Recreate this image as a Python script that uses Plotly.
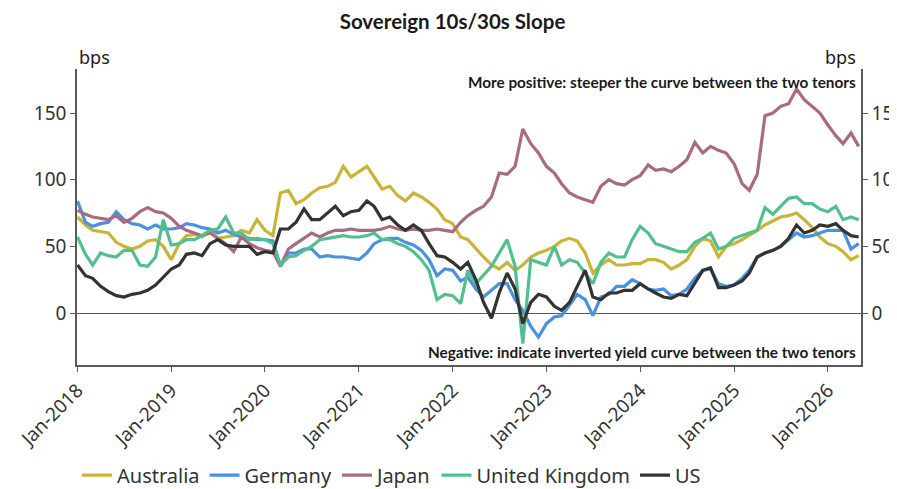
import plotly.graph_objects as go
import pandas as pd

# Monthly observations, Jan-2018 .. May-2026 (bps)
dates = pd.date_range("2018-01-01", "2026-05-01", freq="MS")

australia = [72, 66, 62, 61, 60, 53, 50, 48, 50, 54, 55, 50, 40, 52, 58, 59, 57, 62, 56, 57, 58, 62, 60, 70, 62, 58,
             90, 92, 82, 85, 90, 94, 95, 98, 110, 102, 106, 110, 102, 93, 95, 88, 84, 90, 87, 83, 78, 70, 67, 57, 55,
             48, 42, 36, 33, 38, 32, 36, 42, 45, 47, 50, 54, 56, 54, 45, 30, 36, 40, 36, 36, 37, 37, 40, 40, 38,
             33, 36, 40, 50, 56, 54, 42, 50, 52, 55, 58, 62, 66, 69, 72, 73, 75, 70, 64, 57, 52, 50, 46, 40, 43]

germany = [84, 68, 65, 67, 68, 76, 70, 67, 66, 63, 66, 63, 63, 64, 67, 66, 64, 63, 60, 62, 59, 57, 56, 55, 55, 54,
           35, 45, 45, 48, 48, 42, 43, 42, 42, 41, 40, 45, 52, 55, 56, 56, 53, 51, 47, 40, 28, 33, 32, 24, 27,
           18, 12, 17, 22, 22, 10, 2, -10, -18, -8, -3, -2, 6, 14, 10, -2, 12, 14, 20, 20, 25, 22, 18, 17, 18,
           13, 14, 18, 26, 32, 33, 22, 20, 21, 26, 32, 42, 45, 47, 50, 55, 60, 57, 58, 60, 62, 62, 62, 48, 52]

japan = [77, 74, 72, 71, 70, 73, 68, 71, 76, 79, 76, 75, 71, 65, 62, 60, 58, 60, 56, 52, 46, 57, 52, 49, 47, 46,
         35, 48, 52, 56, 60, 57, 60, 62, 62, 63, 62, 62, 62, 63, 65, 63, 62, 63, 62, 62, 63, 62, 61, 68, 73,
         77, 80, 87, 105, 104, 110, 138, 127, 120, 110, 105, 97, 90, 87, 85, 83, 95, 100, 97, 96, 100, 103, 111, 107, 108,
         106, 110, 115, 128, 120, 125, 122, 120, 112, 97, 92, 104, 148, 150, 155, 157, 168, 160, 155, 150, 141, 133, 127, 135, 125]

united_kingdom = [57, 44, 36, 45, 43, 42, 47, 47, 36, 35, 42, 70, 51, 52, 55, 55, 58, 62, 63, 72, 60, 60, 55, 56, 55, 52,
                  36, 42, 43, 47, 50, 55, 56, 57, 58, 57, 57, 58, 60, 55, 55, 52, 50, 46, 40, 32, 10, 14, 13, 7, 32,
                  22, 28, 35, 45, 55, 35, -23, 40, 38, 36, 50, 36, 40, 38, 30, 22, 38, 45, 42, 42, 55, 65, 60, 52, 50,
                  48, 46, 46, 53, 56, 60, 48, 50, 56, 58, 60, 62, 79, 74, 80, 86, 87, 82, 82, 78, 76, 80, 70, 72, 70]

us = [36, 28, 26, 20, 16, 13, 12, 14, 15, 17, 21, 27, 33, 36, 44, 45, 43, 52, 55, 51, 50, 50, 50, 44, 46, 45,
      63, 63, 68, 78, 70, 70, 75, 80, 73, 76, 77, 84, 80, 70, 72, 66, 62, 66, 62, 52, 43, 42, 38, 33, 38,
      25, 8, -4, 15, 30, 18, -8, 8, 14, 12, 5, 2, 8, 20, 32, 12, 10, 15, 15, 17, 17, 22, 18, 15, 12,
      11, 14, 13, 22, 32, 34, 19, 19, 21, 24, 30, 42, 45, 47, 50, 56, 66, 60, 62, 66, 65, 67, 62, 58, 57]

series_names = ["Australia", "Germany", "Japan", "United Kingdom", "US"]
series_values = [australia, germany, japan, united_kingdom, us]
colors = ["#C9B43A", "#4A92E0", "#A96B7E", "#52BF8D", "#333333"]

y_ticks = [0, 50, 100, 150]
x_ticks = pd.date_range("2018-01-01", "2026-01-01", freq="YS")
x_tick_labels = [d.strftime("Jan-%Y") for d in x_ticks]

fig = go.Figure()
for name, vals, col in zip(series_names, series_values, colors):
    fig.add_trace(go.Scatter(x=dates, y=vals, name=name, mode="lines",
                             line=dict(color=col, width=3.2)))
# helper trace so the right-hand axis is drawn
fig.add_trace(go.Scatter(x=[dates[0]], y=[0], yaxis="y2", mode="markers",
                         marker=dict(opacity=0), showlegend=False, hoverinfo="skip"))

axis_col = "#595959"
tick_font = dict(family="Noto Sans", size=19, color="#333333")
yr = [-39, 183]

fig.update_layout(
    width=889, height=481,
    margin=dict(l=69, r=36, t=61, b=124, autoexpand=False),
    paper_bgcolor="white", plot_bgcolor="white",
    showlegend=True,
    title=dict(text="<b>Sovereign 10s/30s Slope</b>", x=0.5, xanchor="center",
               y=0.972, yanchor="middle",
               font=dict(family="Lato", size=20.5, color="#1a1a1a")),
    xaxis=dict(range=["2017-12-30", "2026-05-10"], tickvals=x_ticks, ticktext=x_tick_labels,
               tickangle=-45, ticks="outside", ticklen=5, tickcolor=axis_col,
               showline=True, linecolor=axis_col, linewidth=1.5, showgrid=False,
               zeroline=False, tickfont=tick_font, automargin=False),
    yaxis=dict(range=yr, tickvals=y_ticks, ticks="outside", ticklen=5, tickcolor=axis_col,
               showline=True, linecolor=axis_col, linewidth=1.5, showgrid=False,
               zeroline=True, zerolinecolor=axis_col, zerolinewidth=1,
               tickfont=tick_font, automargin=False),
    yaxis2=dict(range=yr, tickvals=y_ticks, overlaying="y", side="right",
                ticks="outside", ticklen=5, tickcolor=axis_col,
                showline=True, linecolor=axis_col, linewidth=1.5, showgrid=False,
                zeroline=False, tickfont=tick_font, automargin=False),
    legend=dict(orientation="h", x=0.0, xanchor="left", y=-0.372, yanchor="middle",
                font=dict(family="Noto Sans", size=20, color="#333333"),
                itemwidth=30, tracegroupgap=0, bgcolor="rgba(0,0,0,0)"),
    annotations=[
        dict(text="bps", x=0, xref="paper", y=1.04, yref="paper", xanchor="left",
             yanchor="middle", showarrow=False,
             font=dict(family="Noto Sans", size=18, color="#1a1a1a")),
        dict(text="bps", x=1, xref="paper", y=1.04, yref="paper", xanchor="right",
             yanchor="middle", showarrow=False, xshift=-3,
             font=dict(family="Noto Sans", size=18, color="#1a1a1a")),
        dict(text="<b>More positive: steeper the curve between the two tenors</b>",
             x=1, xref="paper", y=0.956, yref="paper", xanchor="right", yanchor="middle",
             showarrow=False, xshift=-3,
             font=dict(family="Lato", size=15.3, color="#1a1a1a")),
        dict(text="<b>Negative: indicate inverted yield curve between the two tenors</b>",
             x=1, xref="paper", y=0.044, yref="paper", xanchor="right", yanchor="middle",
             showarrow=False, xshift=-3,
             font=dict(family="Lato", size=15.3, color="#1a1a1a")),
    ],
)

fig.write_html("out.html")
